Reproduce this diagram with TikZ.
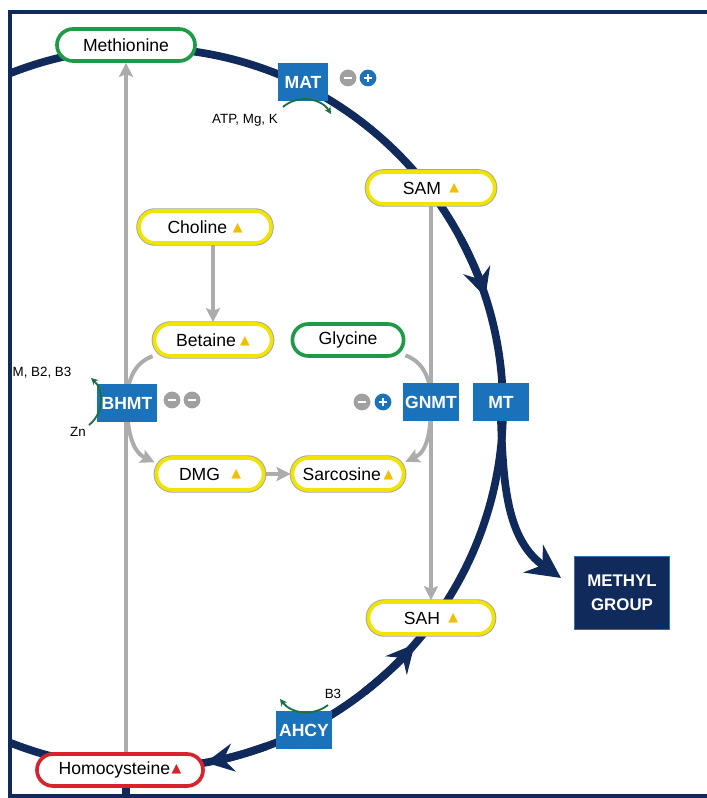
\documentclass[tikz,border=0pt]{standalone}
\usepackage{fontspec}
\setmainfont{Liberation Sans}
\newfontfamily\symfont{DejaVu Sans}
\usepackage{xcolor}
\usetikzlibrary{arrows.meta, positioning, backgrounds}
\definecolor{cNavy}{RGB}{16,42,92}
\definecolor{cEdge}{RGB}{55,110,170}
\definecolor{cBlue}{RGB}{26,115,186}
\definecolor{cYellow}{RGB}{240,228,0}
\definecolor{cRim}{RGB}{165,165,165}
\definecolor{cGreen}{RGB}{30,155,72}
\definecolor{cRed}{RGB}{214,35,45}
\definecolor{cGray}{RGB}{172,172,172}
\definecolor{cIcon}{RGB}{160,160,160}
\definecolor{cCof}{RGB}{28,112,62}
\definecolor{cTri}{RGB}{240,192,0}
\newcommand{\uptri}[1]{\raisebox{1.5pt}{\symfont\fontsize{9}{9}\selectfont\textcolor{#1}{▲}}}
\tikzset{
	pill/.style   ={rectangle, rounded corners=0.4cm, minimum height=0.8cm, fill=white, line width=2.6pt, inner sep=2pt, font=\fontsize{12.5}{14}\selectfont},
	pillY/.style  ={pill, draw=cYellow, preaction={draw=cRim, line width=3.9pt}},
	pillG/.style  ={pill, draw=cGreen},
	pillR/.style  ={pill, draw=cRed},
	enz/.style    ={rectangle, fill=cBlue, text=white, minimum height=0.93cm, inner sep=1pt, font=\bfseries\fontsize{12.5}{14}\selectfont},
	methyl/.style ={rectangle, fill=cNavy, draw=cEdge, line width=1pt, text=white, align=center, minimum width=2.38cm, minimum height=1.83cm, font=\bfseries\fontsize{12}{17}\selectfont},
	inhib/.style  ={circle, fill=cIcon, minimum size=0.42cm, inner sep=0pt, path picture={\draw[white, line width=1.8pt] ([xshift=-3pt]path picture bounding box.center) -- ([xshift=3pt]path picture bounding box.center);}},
	activ/.style  ={circle, fill=cBlue, minimum size=0.42cm, inner sep=0pt, path picture={\draw[white, line width=1.8pt] ([xshift=-3pt]path picture bounding box.center) -- ([xshift=3pt]path picture bounding box.center) ([yshift=-3pt]path picture bounding box.center) -- ([yshift=3pt]path picture bounding box.center);}},
	cofac/.style  ={font=\fontsize{9.5}{11}\selectfont, inner sep=1pt},
	cofarrow/.style={-{Stealth[length=5pt, width=5pt]}, cCof, line width=1.3pt},
	cycle/.style  ={cNavy, line width=5.5pt},
	cyctip/.style ={-{Stealth[length=20pt, width=20pt, inset=7pt]}},
	flow/.style   ={cGray, line width=2.8pt, -{Stealth[length=10pt, width=10pt, inset=2pt]}},
}
\begin{document}
\begin{tikzpicture}[x=0.025cm, y=0.025cm]
	\useasboundingbox (0,0) rectangle (707,798);
	\coordinate (ctr) at (143,390);
	% metabolites
	\node[pillG, minimum width=3.45cm] (met) at (126,753) {Methionine};
	\node[pillY, minimum width=3.18cm] (sam) at (431,610) {SAM\hspace{6pt}\uptri{cTri}};
	\node[pillY, minimum width=3.30cm] (chol) at (205,571) {Choline\hspace{4pt}\uptri{cTri}};
	\node[pillY, minimum width=2.93cm] (bet) at (213,458) {Betaine\hspace{3pt}\uptri{cTri}};
	\node[pillG, minimum width=2.78cm] (gly) at (348,458) {Glycine};
	\node[pillY, minimum width=2.68cm] (dmg) at (210,324) {DMG\hspace{8pt}\uptri{cTri}};
	\node[pillY, minimum width=2.78cm] (sar) at (348,324) {Sarcosine\hspace{2pt}\uptri{cTri}};
	\node[pillY, minimum width=3.13cm] (sah) at (431,180) {SAH\hspace{6pt}\uptri{cTri}};
	\node[pillR, minimum width=4.15cm] (hcy) at (120,28) {Homocysteine\hspace{1pt}\uptri{cRed}};
	\node[methyl] (mgrp) at (622,205) {METHYL\\GROUP};
	% enzymes
	\node[enz, minimum width=1.25cm] (mat) at (303,716) {MAT};
	\node[enz, minimum width=1.50cm] (bhmt) at (127,395) {BHMT};
	\node[enz, minimum width=1.40cm] (gnmt) at (431,396) {GNMT};
	\node[enz, minimum width=1.40cm] (mt) at (501,396) {MT};
	\node[enz, minimum width=1.40cm] (ahcy) at (304,68) {AHCY};
	% regulation
	\node[inhib] (matI) at (348,720) {};
	\node[activ] (matA) at (368,720) {};
	\node[inhib] (bhmtI) at (172,398) {};
	\node[inhib] (bhmtJ) at (192,398) {};
	\node[inhib] (gnmtI) at (362,396) {};
	\node[activ] (gnmtA) at (383,396) {};
	% cofactors
	\node[cofac] (matC) at (245,678) {ATP, Mg, K};
	\node[cofac, anchor=west] (bhmtC) at (11,425) {M, B2, B3};
	\node[cofac] (bhmtZ) at (78,366) {Zn};
	\node[cofac] (ahcyC) at (333,104) {B3};
	\coordinate (matS) at (283,691);
	\coordinate (matE) at (331,684);
	\coordinate (bhmtS) at (89,373);
	\coordinate (bhmtE) at (91,420);
	\coordinate (ahcyS) at (328,93);
	\coordinate (ahcyE) at (280,99);
	\draw[cofarrow] (matS) to[bend left=50] (matE);
	\draw[cofarrow] (bhmtS) to[bend right=50] (bhmtE);
	\draw[cofarrow] (ahcyS) to[bend left=45] (ahcyE);
	\coordinate (mtip) at (561,220);
	\coordinate (bot) at (126,0);
	\begin{scope}[on background layer]
		\begin{scope}
			\clip (12,4) rectangle (707,784);
			\draw[cycle] (ctr) circle (360);
		\end{scope}
		\draw[cycle, cyctip] ([shift={(28:360)}]ctr) arc[start angle=28, end angle=18, radius=360];
		\draw[cycle, cyctip] ([shift={(-52:360)}]ctr) arc[start angle=-52, end angle=-41, radius=360];
		\draw[cycle, cyctip] ([shift={(-70:360)}]ctr) arc[start angle=-70, end angle=-80, radius=360];
		\draw[cycle, -{Stealth[length=24pt, width=24pt, inset=8pt]}] (mt.south) to[out=-88, in=145] (mtip);
		\draw[cycle] (hcy.south -| bot) -- (bot);
		\draw[flow] (hcy.north -| met.south) -- (met.south);
		\draw[flow] (chol.south -| bet.north) -- (bet.north);
		\draw[flow] (sam.south) -- (sah.north);
		\draw[flow] (dmg.east) -- (sar.west);
		\draw[flow] (bet.195) to[out=200, in=90] (bhmt.center) to[out=-90, in=155] (dmg.168);
		\draw[flow] (gly.-15) to[out=-20, in=90] (gnmt.center) to[out=-90, in=25] (sar.12);
	\end{scope}
	% frame
	\draw[cNavy, line width=3.5pt] (707,786) -- (10,786) -- (10,2) -- (707,2);
\end{tikzpicture}
\end{document}
